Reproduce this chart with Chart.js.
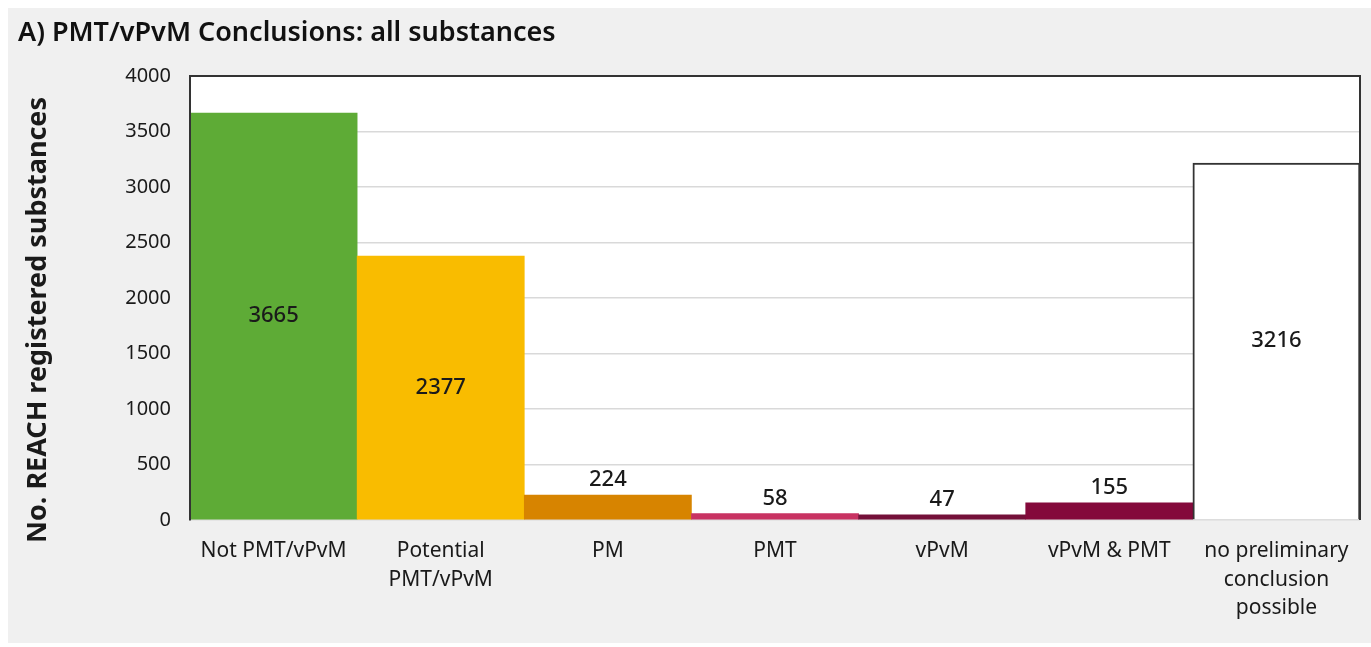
<!DOCTYPE html>
<html>
<head>
<meta charset="utf-8">
<script src="https://cdn.jsdelivr.net/npm/chart.js@4.4.1/dist/chart.umd.min.js"></script>
<style>
  html, body { margin: 0; padding: 0; background: #ffffff; }
  #panel { position: absolute; left: 8px; top: 8px; width: 1363px; height: 635px; background: #f0f0f0; }
  canvas { display: block; }
</style>
</head>
<body>
<div id="panel"><canvas id="c" width="1363" height="635"></canvas></div>
<script>
const titleText = "A) PMT/vPvM Conclusions: all substances";
const yAxisTitle = "No. REACH registered substances";
const categories = [
  "Not PMT/vPvM",
  ["Potential", "PMT/vPvM"],
  "PM",
  "PMT",
  "vPvM",
  "vPvM & PMT",
  ["no preliminary", "conclusion", "possible"]
];
const values = [3665, 2377, 224, 58, 47, 155, 3216];
const barColors = ["#5eab36", "#f9bc00", "#d78400", "#c83262", "#741039", "#84093b", "#ffffff"];
const labelPlacement = ["center", "center", "above", "above", "above", "above", "center"];
const yTicks = [0, 500, 1000, 1500, 2000, 2500, 3000, 3500, 4000];

const FONT = "'Noto Sans', 'DejaVu Sans', sans-serif";

const plotFrame = {
  id: 'plotFrame',
  beforeDraw(chart) {
    const { ctx, chartArea: a } = chart;
    ctx.save();
    ctx.fillStyle = '#ffffff';
    ctx.fillRect(a.left, a.top, a.right - a.left, a.bottom - a.top);
    ctx.restore();
  },
  afterDatasetsDraw(chart) {
    const { ctx, chartArea: a } = chart;
    ctx.save();
    ctx.strokeStyle = '#333333';
    ctx.lineWidth = 2;
    ctx.beginPath();
    ctx.moveTo(a.left, a.top);
    ctx.lineTo(a.right, a.top);
    ctx.lineTo(a.right, a.bottom);
    ctx.stroke();
    ctx.beginPath();
    ctx.moveTo(a.left, a.top);
    ctx.lineTo(a.left, a.bottom);
    ctx.stroke();
    // value labels
    const meta = chart.getDatasetMeta(0);
    ctx.fillStyle = '#1a1a1a';
    ctx.font = "500 22px " + FONT;
    ctx.textAlign = 'center';
    ctx.textBaseline = 'middle';
    meta.data.forEach((bar, i) => {
      const v = chart.data.datasets[0].data[i];
      let y;
      if (labelPlacement[i] === 'center') {
        y = (bar.y + bar.base) / 2;
      } else {
        y = bar.y - 15;
      }
      ctx.fillText(String(v), bar.x, y);
    });
    // y axis title
    ctx.font = "bold 27px " + FONT;
    ctx.fillStyle = '#1a1a1a';
    ctx.translate(30, 312);
    ctx.rotate(-Math.PI / 2);
    ctx.fillText(yAxisTitle, 0, 0);
    ctx.restore();
  }
};

new Chart(document.getElementById('c'), {
  type: 'bar',
  data: {
    labels: categories,
    datasets: [{
      data: values,
      backgroundColor: barColors,
      borderColor: barColors.map((c, i) => i === 6 ? '#333333' : c),
      borderWidth: barColors.map((c, i) => i === 6 ? 2 : 0),
      borderSkipped: 'bottom',
      categoryPercentage: 1.0,
      barPercentage: 1.0
    }]
  },
  options: {
    responsive: false,
    animation: false,
    layout: { padding: { left: 10, right: 11, top: 0, bottom: 0 } },
    plugins: {
      legend: { display: false },
      tooltip: { enabled: false },
      title: {
        display: true,
        text: titleText,
        align: 'start',
        color: '#111111',
        font: { family: FONT, size: 27, weight: '600', lineHeight: 1.2 },
        padding: { top: 9, bottom: 26.6 }
      }
    },
    scales: {
      x: {
        grid: { display: false, drawTicks: false },
        border: { display: false },
        ticks: {
          color: '#1a1a1a',
          font: { family: FONT, size: 21, lineHeight: 1.36 },
          padding: 17,
          maxRotation: 0,
          autoSkip: false
        },
        afterFit(scale) { scale.height = 123; }
      },
      y: {
        min: 0,
        max: 4000,
        afterBuildTicks(scale) { scale.ticks = yTicks.map(v => ({ value: v })); },
        grid: { color: '#d9d9d9', lineWidth: 1.5, drawTicks: false },
        border: { display: true, color: '#333333', width: 2 },
        ticks: {
          color: '#1a1a1a',
          font: { family: FONT, size: 20 },
          padding: 19,
          callback: (v) => String(v)
        },
        afterFit(scale) { scale.width = 172; }
      }
    }
  },
  plugins: [plotFrame]
});
</script>
</body>
</html>
